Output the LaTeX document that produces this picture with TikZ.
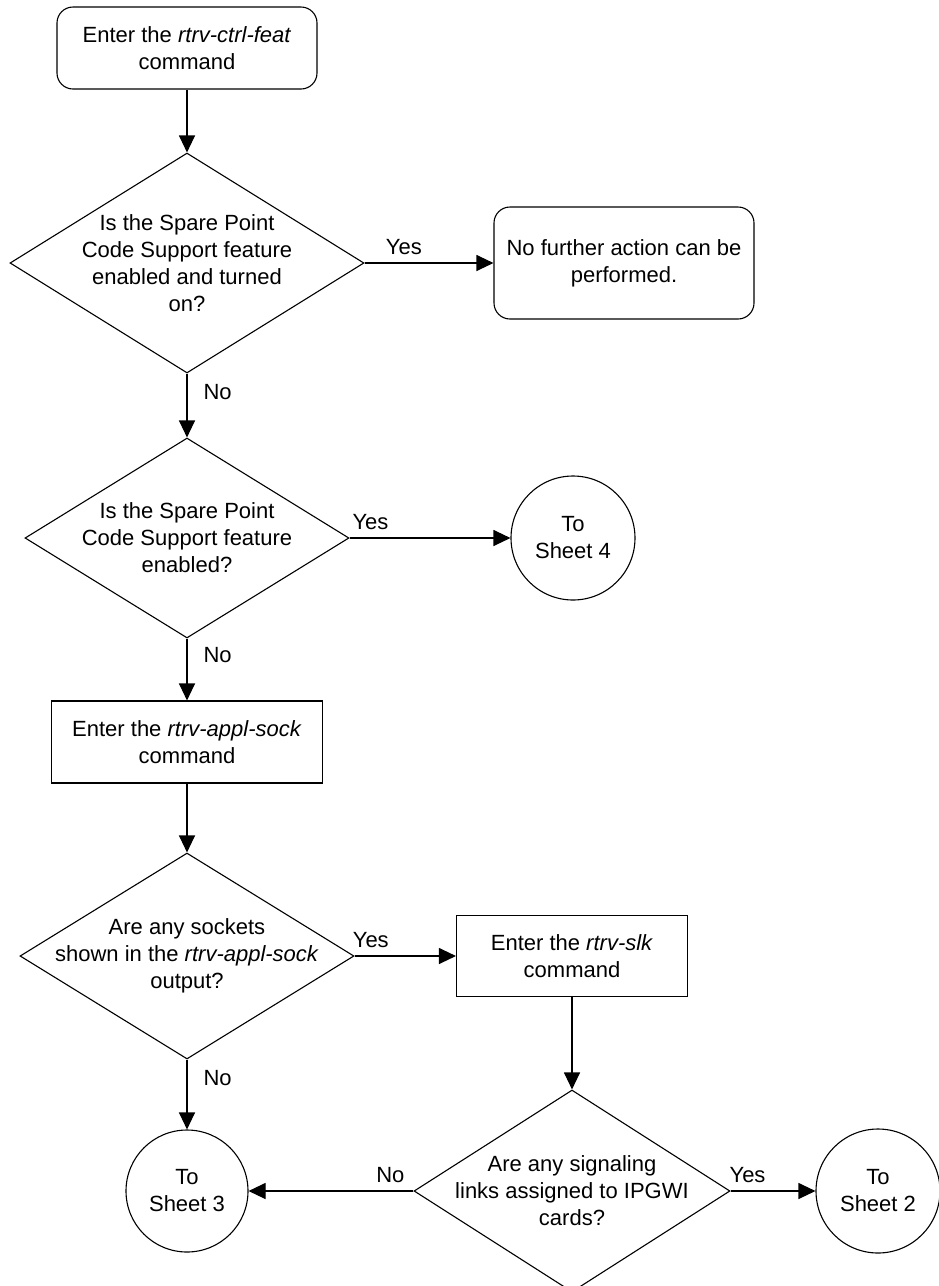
\documentclass[tikz,border=0pt]{standalone}
\usepackage{fontspec}
\setmainfont{Liberation Sans}
\usetikzlibrary{shapes.geometric,arrows.meta}
\begin{document}
\begin{tikzpicture}[x=1pt,y=-1pt, line width=1.1pt,
  font=\fontsize{22}{27}\selectfont,
  box/.style={draw, rectangle, align=center, inner sep=0pt},
  rbox/.style={box, rounded corners=16pt},
  decision/.style={draw, diamond, inner sep=0pt},
  conn/.style={draw, circle, inner sep=0pt, align=center},
  txt/.style={align=center, inner sep=0pt},
  arr/.style={-{Triangle[length=17pt,width=16pt]}},
  lbl/.style={inner sep=0pt}]
\useasboundingbox (0,0) rectangle (939,1286);
\clip (0,0) rectangle (939,1286);

\node[rbox, minimum width=260pt, minimum height=82pt] (top) at (187,48)
  {Enter the \textit{rtrv-ctrl-feat}\\command};
\node[decision, minimum width=354pt, minimum height=220pt] (d1) at (187,263) {};
\node[txt] at (d1.center) {Is the Spare Point\\Code Support feature\\enabled and turned\\on?};
\node[rbox, minimum width=260pt, minimum height=112pt] (r2) at (624,263)
  {No further action can be\\performed.};
\node[decision, minimum width=324pt, minimum height=200pt] (d2) at (187,538) {};
\node[txt] at (d2.center) {Is the Spare Point\\Code Support feature\\enabled?};
\node[conn, minimum size=124pt] (c4) at (573,538) {To\\Sheet 4};
\node[box, minimum width=271pt, minimum height=82pt] (r3) at (187,742)
  {Enter the \textit{rtrv-appl-sock}\\command};
\node[decision, minimum width=334pt, minimum height=206pt] (d3) at (187,956) {};
\node[txt] at (d3.center) {Are any sockets\\shown in the \textit{rtrv-appl-sock}\\output?};
\node[box, minimum width=231pt, minimum height=81pt] (r4) at (572,956)
  {Enter the \textit{rtrv-slk}\\command};
\node[decision, minimum width=316pt, minimum height=202pt] (d4) at (572,1191) {};
\node[txt] at (d4.center) {Are any signaling\\links assigned to IPGWI\\cards?};
\node[conn, minimum size=122pt] (c3) at (187,1191) {To\\Sheet 3};
\node[conn, minimum size=124pt] (c2) at (878,1191) {To\\Sheet 2};

\draw[arr] (top.south) -- (d1.north);
\draw[arr] (d1.east) -- node[lbl, pos=0.305, above=8pt] {Yes} (r2.west);
\draw[arr] (d1.south) -- node[lbl, pos=0.29, right=16pt] {No} (d2.north);
\draw[arr] (d2.east) -- node[lbl, pos=0.13, above=8pt] {Yes} (c4.west);
\draw[arr] (d2.south) -- node[lbl, pos=0.27, right=16pt] {No} (r3.north);
\draw[arr] (r3.south) -- (d3.north);
\draw[arr] (d3.east) -- node[lbl, pos=0.16, above=8pt] {Yes} (r4.west);
\draw[arr] (r4.south) -- (d4.north);
\draw[arr] (d3.south) -- node[lbl, pos=0.27, right=16pt] {No} (c3.north);
\draw[arr] (d4.west) -- node[lbl, pos=0.14, above=8pt] {No} (c3.east);
\draw[arr] (d4.east) -- node[lbl, pos=0.2, above=8pt] {Yes} (c2.west);
\end{tikzpicture}
\end{document}
